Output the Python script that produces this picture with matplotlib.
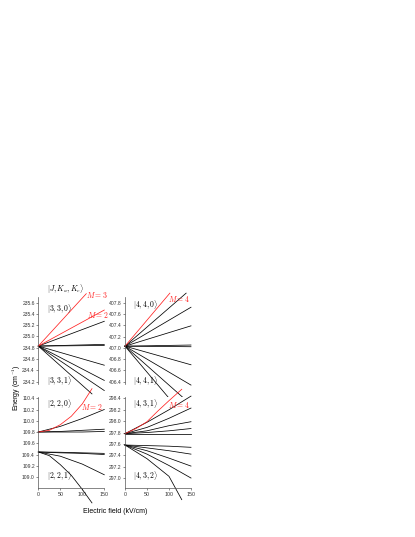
import matplotlib.pyplot as plt

plt.rcParams['font.family'] = ['Liberation Sans', 'DejaVu Sans']
plt.rcParams['mathtext.fontset'] = 'cm'

# Stark curves: (field in kV/cm, energy in cm^-1)
# |3,3,0> / |3,3,1>
tl_red = [([0, 109], [234.83, 235.76]),
          ([0, 150], [234.83, 235.47])]
tl_black = [([0, 150], [234.83, 235.27]),
            ([0, 150], [234.83, 234.86]),
            ([0, 150], [234.83, 234.84]),
            ([0, 150], [234.83, 234.49]),
            ([0, 150], [234.83, 234.22]),
            ([0, 150], [234.83, 234.04]),
            ([0, 122], [234.83, 233.98])]

# |4,4,0> / |4,4,1>
tr_red = [([0, 102], [407.03, 407.97])]
tr_black = [([0, 139], [407.03, 407.97]),
            ([0, 150], [407.03, 407.72]),
            ([0, 150], [407.03, 407.39]),
            ([0, 150], [407.03, 407.05]),
            ([0, 150], [407.03, 407.02]),
            ([0, 150], [407.03, 406.70]),
            ([0, 150], [407.03, 406.34]),
            ([0, 139], [407.03, 406.07]),
            ([0, 102], [407.03, 406.09])]

# |2,2,0> / |2,2,1>
bl_red = [([0, 25, 50, 75, 100, 122], [109.80, 109.83, 109.93, 110.08, 110.30, 110.57])]
bl_black = [([0, 50, 100, 150], [109.80, 109.90, 110.04, 110.20]),
            ([0, 50, 100, 150], [109.80, 109.81, 109.83, 109.85]),
            ([0, 50, 100, 150], [109.80, 109.80, 109.80, 109.81]),
            ([0, 50, 100, 150], [109.445, 109.44, 109.43, 109.42]),
            ([0, 50, 100, 150], [109.445, 109.43, 109.42, 109.40]),
            ([0, 50, 100, 150], [109.445, 109.37, 109.23, 109.04]),
            ([0, 25, 50, 75, 100, 122], [109.445, 109.38, 109.22, 109.03, 108.78, 108.54])]

# |4,3,1> / |4,3,2>
br_red = [([0, 25, 50, 75, 100, 129], [297.78, 297.87, 297.99, 298.18, 298.36, 298.56])]
br_black = [([0, 50, 100, 150], [297.78, 297.98, 298.20, 298.44]),
            ([0, 50, 100, 150], [297.78, 297.89, 298.05, 298.23]),
            ([0, 50, 100, 150], [297.78, 297.83, 297.92, 297.99]),
            ([0, 50, 100, 150], [297.78, 297.80, 297.83, 297.87]),
            ([0, 50, 100, 150], [297.78, 297.78, 297.78, 297.78]),
            ([0, 50, 100, 150], [297.58, 297.57, 297.56, 297.54]),
            ([0, 50, 100, 150], [297.58, 297.53, 297.48, 297.42]),
            ([0, 50, 100, 150], [297.58, 297.48, 297.35, 297.21]),
            ([0, 50, 100, 150], [297.58, 297.42, 297.22, 297.00]),
            ([0, 50, 100, 129], [297.58, 297.34, 297.03, 296.62])]

tl_ticks = [234.2, 234.4, 234.6, 234.8, 235.0, 235.2, 235.4, 235.6]
bl_ticks = [109.0, 109.2, 109.4, 109.6, 109.8, 110.0, 110.2, 110.4]
tr_ticks = [406.4, 406.6, 406.8, 407.0, 407.2, 407.4, 407.6, 407.8]
br_ticks = [297.0, 297.2, 297.4, 297.6, 297.8, 298.0, 298.2, 298.4]
x_ticks = [0, 50, 100, 150]

fig = plt.figure(figsize=(4.15, 5.37), dpi=100)

W = 0.159
ax_tl = fig.add_axes([0.0923, 0.2849, W, 0.1626])
ax_bl = fig.add_axes([0.0923, 0.0918, W, 0.1695])
ax_tr = fig.add_axes([0.3012, 0.2849, W, 0.1626])
ax_br = fig.add_axes([0.3012, 0.0918, W, 0.1695])

panels = [
    (ax_tl, tl_red, tl_black, tl_ticks, (234.156, 235.707), False),
    (ax_bl, bl_red, bl_black, bl_ticks, (108.81, 110.428), True),
    (ax_tr, tr_red, tr_black, tr_ticks, (406.359, 407.907), False),
    (ax_br, br_red, br_black, br_ticks, (296.83, 298.43), True),
]

red = '#ff2020'
for ax, reds, blacks, yt, ylim, bottom in panels:
    for x, y in blacks:
        ax.plot(x, y, color='black', lw=0.55, clip_on=False)
    for x, y in reds:
        ax.plot(x, y, color=red, lw=0.55, clip_on=False)
    ax.set_xlim(0, 150)
    ax.set_ylim(*ylim)
    ax.set_yticks(yt)
    ax.set_yticklabels([f'{v:.1f}' for v in yt])
    for s in ['top', 'right']:
        ax.spines[s].set_visible(False)
    ax.spines['left'].set_linewidth(0.5)
    ax.spines['left'].set_color('#555555')
    ax.tick_params(axis='y', direction='out', length=1.5, width=0.4,
                   labelsize=3.6, pad=1, colors='#333333')
    if bottom:
        ax.spines['bottom'].set_linewidth(0.5)
        ax.spines['bottom'].set_color('#555555')
        ax.set_xticks(x_ticks)
        ax.tick_params(axis='x', direction='out', length=1.5, width=0.4,
                       labelsize=3.8, pad=1.5, colors='#333333')
    else:
        ax.spines['bottom'].set_visible(False)
        ax.set_xticks([])

fs = 5.5
ax_tl.text(0.127, 1.088, r'$|J, K_a, K_c\rangle$', transform=ax_tl.transAxes, fontsize=fs, va='center')
ax_tl.text(0.127, 0.856, r'$|3, 3, 0\rangle$', transform=ax_tl.transAxes, fontsize=fs, va='center')
ax_tl.text(0.127, 0.03, r'$|3, 3, 1\rangle$', transform=ax_tl.transAxes, fontsize=fs, va='center')
ax_tl.text(0.723, 1.02, r'$M = 3$', transform=ax_tl.transAxes, fontsize=fs, va='center', color=red)
ax_tl.text(0.733, 0.79, r'$M = 2$', transform=ax_tl.transAxes, fontsize=fs, va='center', color=red)

ax_bl.text(0.127, 0.909, r'$|2, 2, 0\rangle$', transform=ax_bl.transAxes, fontsize=fs, va='center')
ax_bl.text(0.64, 0.89, r'$M = 2$', transform=ax_bl.transAxes, fontsize=fs, va='center', color=red)
ax_bl.text(0.127, 0.121, r'$|2, 2, 1\rangle$', transform=ax_bl.transAxes, fontsize=fs, va='center')

ax_tr.text(0.121, 0.905, r'$|4, 4, 0\rangle$', transform=ax_tr.transAxes, fontsize=fs, va='center')
ax_tr.text(0.65, 0.97, r'$M = 4$', transform=ax_tr.transAxes, fontsize=fs, va='center', color=red)
ax_tr.text(0.121, 0.03, r'$|4, 4, 1\rangle$', transform=ax_tr.transAxes, fontsize=fs, va='center')

ax_br.text(0.121, 0.909, r'$|4, 3, 1\rangle$', transform=ax_br.transAxes, fontsize=fs, va='center')
ax_br.text(0.65, 0.909, r'$M = 4$', transform=ax_br.transAxes, fontsize=fs, va='center', color=red)
ax_br.text(0.121, 0.121, r'$|4, 3, 2\rangle$', transform=ax_br.transAxes, fontsize=fs, va='center')

fig.text(0.040, 0.2775, r'Energy (cm$^{-1}$)', rotation=90, fontsize=5, va='center', ha='center')
fig.text(0.277, 0.047, 'Electric field (kV/cm)', fontsize=5, ha='center', va='center')

fig.savefig('out.png', dpi=100)
